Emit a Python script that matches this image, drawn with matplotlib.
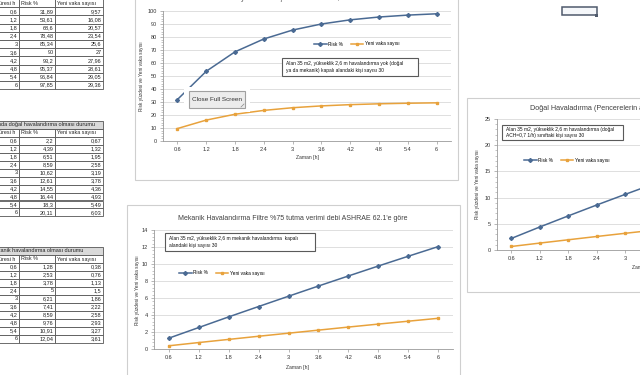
import matplotlib
matplotlib.use('Agg')
import matplotlib.pyplot as plt
from matplotlib.patches import Rectangle
from matplotlib.transforms import Affine2D
from matplotlib.ticker import MultipleLocator, AutoMinorLocator

plt.rcParams['font.family'] = ['Liberation Sans', 'DejaVu Sans']

# veriler (tablolardan)
zaman = [0.6, 1.2, 1.8, 2.4, 3, 3.6, 4.2, 4.8, 5.4, 6]
zaman_etiket = ['0.6', '1.2', '1.8', '2.4', '3', '3.6', '4.2', '4.8', '5.4', '6']

risk_yok = [31.89, 53.61, 68.6, 78.48, 85.34, 90, 93.2, 95.37, 96.84, 97.85]
vaka_yok = [9.57, 16.08, 20.57, 23.54, 25.6, 27, 27.96, 28.61, 29.05, 29.36]

risk_dogal = [2.2, 4.39, 6.51, 8.59, 10.62, 12.61, 14.55, 16.44, 18.3, 20.11]
vaka_dogal = [0.67, 1.32, 1.95, 2.58, 3.19, 3.78, 4.36, 4.93, 5.49, 6.03]

risk_mek = [1.28, 2.53, 3.78, 5, 6.21, 7.41, 8.59, 9.76, 10.91, 12.04]
vaka_mek = [0.38, 0.76, 1.13, 1.5, 1.86, 2.22, 2.58, 2.93, 3.27, 3.61]

MAVI = '#4a6a93'
TURUNCU = '#e8a23c'
W, H = 640, 375

fig = plt.figure(figsize=(6.4, 3.75), dpi=100)


def eksen(sol, ust, sag, alt, z=1):
    return fig.add_axes([sol / W, 1 - alt / H, (sag - sol) / W, (alt - ust) / H], zorder=z)


def duz(ax):
    ax.set_xlim(0, W)
    ax.set_ylim(H, 0)
    ax.axis('off')
    ax.patch.set_alpha(0)


bg = eksen(0, 0, W, H, z=0)
duz(bg)


def sayi(v):
    return '{:g}'.format(v).replace('.', ',')


def tablo(y_ust, h, baslik, risk, vaka):
    kx = [-12, 19, 55, 103]
    y = y_ust
    if baslik:
        bg.add_patch(Rectangle((kx[0], y), kx[-1] - kx[0], h, fc='#d9d9d9', ec='#555555', lw=0.6))
        bg.text(kx[0] + 2, y + h / 2, baslik, fontsize=4, va='center', ha='left', color='#222222')
        y += h
    satirlar = [('Maruziyet süresi h', 'Risk %', 'Yeni vaka sayısı')]
    for z, r, v in zip(zaman, risk, vaka):
        satirlar.append((sayi(z), sayi(r), sayi(v)))
    for i, s in enumerate(satirlar):
        yy = y + i * h
        for j in range(3):
            bg.add_patch(Rectangle((kx[j], yy), kx[j + 1] - kx[j], h, fc='white', ec='#555555', lw=0.6))
            if i == 0:
                if j == 0:
                    bg.text(kx[1] - 4, yy + h / 2, s[j], fontsize=3.9, va='center', ha='right', color='#222222')
                else:
                    bg.text(kx[j] + 2, yy + h / 2, s[j], fontsize=3.9, va='center', ha='left', color='#222222')
            else:
                bg.text(kx[j + 1] - 1.5, yy + h / 2, s[j], fontsize=4, va='center', ha='right', color='#222222')


tablo(-1, 8.2, None, risk_yok, vaka_yok)
tablo(121, 7.95, 'Alanda doğal havalandırma olması durumu', risk_dogal, vaka_dogal)
tablo(247, 8, 'Mekanik havalandırma olması durumu', risk_mek, vaka_mek)

# grafik çerçeveleri
for (x0, y0, x1, y1) in [(135, -5, 458, 180), (127, 205, 460, 385), (467, 98, 650, 292)]:
    bg.add_patch(Rectangle((x0, y0), x1 - x0, y1 - y0, fc='white', ec='#cfcfcf', lw=0.8))


def grafik(ax, risk, vaka, ymax, ystep, legend_xy):
    x = range(len(zaman))
    ax.plot(x, risk, color=MAVI, lw=1.1, marker='D', ms=2, label='Risk %')
    ax.plot(x, vaka, color=TURUNCU, lw=1.1, marker='s', ms=2, label='Yeni vaka sayısı')
    ax.set_xlim(-0.5, len(zaman) - 0.5)
    ax.set_ylim(0, ymax)
    ax.set_xticks(list(x), zaman_etiket)
    ax.yaxis.set_major_locator(MultipleLocator(ystep))
    ax.yaxis.set_minor_locator(AutoMinorLocator(5))
    ax.grid(axis='y', color='#d9d9d9', lw=0.6)
    ax.set_axisbelow(True)
    for s in ['top', 'right']:
        ax.spines[s].set_visible(False)
    for s in ['left', 'bottom']:
        ax.spines[s].set_color('#9a9a9a')
        ax.spines[s].set_linewidth(0.6)
    ax.tick_params(labelsize=4, length=2, width=0.5, color='#9a9a9a', pad=2.5, labelcolor='#333333')
    ax.tick_params(which='minor', length=1.2, width=0.4, color='#9a9a9a')
    ax.patch.set_alpha(0)
    ax.legend(loc='center', bbox_to_anchor=(legend_xy[0] / W, 1 - legend_xy[1] / H),
              bbox_transform=fig.transFigure, ncol=2, frameon=False, fontsize=3.4,
              handlelength=2.6, columnspacing=1.6, handletextpad=0.4)


ax1 = eksen(163, 11, 451, 141)
grafik(ax1, risk_yok, vaka_yok, 100, 10, (357, 44))
ax2 = eksen(154, 230, 453, 349)
grafik(ax2, risk_mek, vaka_mek, 14, 2, (222, 273))
ax3 = eksen(497, 119, 782, 250)
grafik(ax3, risk_dogal, vaka_dogal, 25, 5, (567, 160))

ust = eksen(0, 0, W, H, z=10)
duz(ust)

ylab = 'Risk yüzdesi ve Yeni vaka sayısı'
for (x, y) in [(142, 76), (137, 290), (478, 184)]:
    ust.text(x, y, ylab, fontsize=3.4, rotation=90, ha='center', va='center', color='#333333')
for (x, y) in [(307, 157), (297, 367), (643, 267)]:
    ust.text(x, y, 'Zaman [h]', fontsize=3.6, ha='center', va='center', color='#333333')

ust.text(275, -1, 'Havalandırma yokken bulaşma riski ACH = 0,4 1/h', fontsize=5.2,
         ha='center', va='center', color='#404040')
ust.text(293, 219, "Mekanik Havalandırma Filtre %75 tutma verimi debi ASHRAE 62.1'e göre",
         fontsize=5.0, ha='center', va='center', color='#404040')
ust.text(530, 108, 'Doğal Havaladırma (Pencerelerin açık olması durumu)', fontsize=5.2,
         ha='left', va='center', color='#404040')

kutular = [
    (282, 58, 418, 76, 'Alan 35 m2, yükseklik 2,6 m havalandırma yok (doğal\nya da mekanik) kapalı alandaki kişi sayısı 30'),
    (165, 233, 315, 251, 'Alan 35 m2, yükseklik 2,6 m mekanik havalandırma  kapalı\nalandaki kişi sayısı 30'),
    (502, 125, 623, 140, 'Alan 35 m2, yükseklik 2,6 m havalandırma (doğal\nACH=0,7 1/h) sınıftaki kişi sayısı 30'),
]
for (x0, y0, x1, y1, t) in kutular:
    ust.add_patch(Rectangle((x0, y0), x1 - x0, y1 - y0, fc='white', ec='#5a5a5a', lw=0.8))
    ust.text(x0 + 4, (y0 + y1) / 2, t, fontsize=3.5, ha='left', va='center', color='#111111',
             linespacing=1.3)

# Close Full Screen düğmesi
ust.add_patch(Rectangle((184, 87), 66, 25, fc='white', ec='none'))
ust.add_patch(Rectangle((189, 91), 56, 17, fc='#ececec', ec='#a0a0a0', lw=0.8))
ust.text(217, 99.5, 'Close Full Screen', fontsize=4.6, ha='center', va='center', color='#333333')
ust.plot([241, 244], [107, 104], color='#888888', lw=0.5)

# sağ üstteki seçili şekil
ust.add_patch(Rectangle((562, 7), 35, 8, fc='#f5f7fa', ec='#4f5a6c', lw=1.1))
ust.add_patch(Rectangle((595, 13.5), 3, 3, fc='#4f5a6c', ec='none'))

fig.savefig('out.png', dpi=100)
